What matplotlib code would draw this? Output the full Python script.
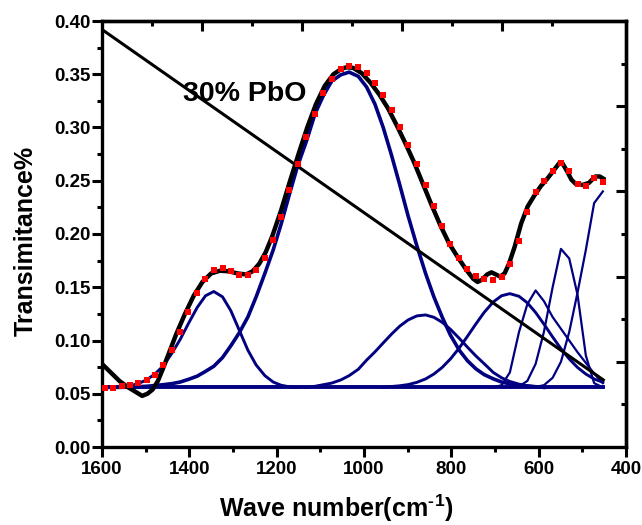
import numpy as np
import matplotlib
matplotlib.use('Agg')
import matplotlib.pyplot as plt
from matplotlib.ticker import MultipleLocator

plt.rcParams['font.family'] = ['Liberation Sans', 'DejaVu Sans']
plt.rcParams['font.weight'] = 'bold'
plt.rcParams['mathtext.fontset'] = 'custom'
plt.rcParams['mathtext.rm'] = 'Liberation Sans:bold'
plt.rcParams['mathtext.default'] = 'rm'

# measured spectrum (red squares)
wave = [1593, 1574, 1555, 1536, 1517, 1498, 1479, 1460, 1440, 1421,
        1402, 1382, 1363, 1344, 1324, 1305, 1286, 1266, 1247, 1227,
        1208, 1190, 1171, 1152, 1132, 1112, 1093, 1074, 1053, 1034,
        1013, 994, 975, 956, 937, 918, 899, 879, 859, 840,
        821, 802, 782, 763, 744, 725, 704, 685, 666, 645,
        626, 607, 588, 568, 549, 530, 511, 492, 473, 453]
trans = [0.0557, 0.0557, 0.0573, 0.0582, 0.0598, 0.0629, 0.0676, 0.077, 0.091, 0.108,
         0.127, 0.145, 0.158, 0.166, 0.168, 0.165, 0.1615, 0.1615, 0.166, 0.177,
         0.194, 0.216, 0.241, 0.266, 0.291, 0.313, 0.332, 0.346, 0.3546, 0.358,
         0.3565, 0.351, 0.3415, 0.3305, 0.3164, 0.3008, 0.284, 0.2657, 0.246, 0.2263,
         0.2075, 0.1906, 0.177, 0.167, 0.1606, 0.1575, 0.1568, 0.160, 0.1715, 0.1937,
         0.2203, 0.2398, 0.250, 0.2594, 0.2663, 0.2594, 0.247, 0.245, 0.2523, 0.249]

# cumulative fit (black)
fit_x = [1600, 1580, 1560, 1540, 1520, 1508, 1496, 1484, 1472, 1460,
         1445, 1430, 1410, 1390, 1370, 1350, 1330, 1310, 1290, 1270,
         1255, 1240, 1225, 1210, 1190, 1170, 1150, 1130, 1110, 1090,
         1070, 1050, 1040, 1025, 1005, 985, 965, 945, 925, 905,
         885, 865, 845, 825, 805, 785, 765, 750, 740, 730,
         718, 708, 698, 688, 678, 668, 655, 640, 625, 610,
         595, 580, 565, 552, 545, 535, 525, 515, 500, 485,
         470, 460, 452]
fit_y = [0.078, 0.070, 0.062, 0.056, 0.051, 0.048, 0.050, 0.054, 0.062, 0.074,
         0.090, 0.106, 0.125, 0.142, 0.155, 0.163, 0.1655, 0.165, 0.163, 0.162,
         0.165, 0.172, 0.183, 0.198, 0.222, 0.249, 0.275, 0.300, 0.322, 0.339,
         0.350, 0.3555, 0.3565, 0.356, 0.351, 0.342, 0.331, 0.318, 0.302, 0.285,
         0.267, 0.247, 0.227, 0.208, 0.191, 0.178, 0.166, 0.158, 0.155, 0.157,
         0.162, 0.164, 0.162, 0.160, 0.163, 0.172, 0.188, 0.210, 0.226, 0.236,
         0.245, 0.252, 0.260, 0.267, 0.266, 0.259, 0.251, 0.247, 0.246, 0.248,
         0.254, 0.254, 0.252]

# fitted peaks (blue)
baseline = 0.056
base_x = [1598, 453]

p1_x = [1593, 1555, 1536, 1517, 1498, 1479, 1460, 1440, 1421, 1402, 1382, 1363, 1344,
        1324, 1305, 1286, 1266, 1247, 1227, 1208, 1190, 1171, 1152]
p1_y = [0.056, 0.0565, 0.0575, 0.0595, 0.063, 0.0685, 0.076, 0.088, 0.101, 0.116, 0.131, 0.142, 0.146,
        0.141, 0.128, 0.110, 0.091, 0.077, 0.067, 0.061, 0.058, 0.0565, 0.056]

p2_x = [1593, 1555, 1536, 1517, 1498, 1479, 1460, 1440, 1421, 1402, 1382, 1363, 1344,
        1324, 1305, 1286, 1266, 1247, 1227, 1208, 1190, 1171, 1152, 1132, 1112,
        1093, 1074, 1053, 1034, 1013, 994, 975, 956, 937, 918, 899, 879, 859, 840,
        821, 802, 782, 763, 744, 725, 704, 685, 666, 645, 626, 607, 588]
p2_y = [0.056, 0.056, 0.0563, 0.0566, 0.057, 0.0577, 0.0585, 0.0595, 0.061, 0.0635, 0.0665, 0.071, 0.0758,
        0.084, 0.095, 0.107, 0.122, 0.141, 0.163, 0.185, 0.209, 0.237, 0.264, 0.287, 0.313,
        0.330, 0.3435, 0.3495, 0.352, 0.348, 0.338, 0.322, 0.300, 0.274, 0.246, 0.217, 0.189, 0.163, 0.141,
        0.122, 0.105, 0.091, 0.081, 0.0735, 0.068, 0.064, 0.061, 0.0593, 0.058, 0.0572, 0.0566, 0.056]

p3_x = [1132, 1112, 1093, 1074, 1053, 1034, 1013, 994, 975, 956, 937, 918, 899, 879, 859,
        840, 821, 802, 782, 763, 744, 725, 704, 685, 666, 645, 626, 607, 588]
p3_y = [0.056, 0.057, 0.0585, 0.060, 0.063, 0.067, 0.073, 0.0816, 0.0893, 0.0977, 0.106, 0.1135, 0.1193, 0.1231, 0.124,
        0.1218, 0.1171, 0.1105, 0.1021, 0.0937, 0.0856, 0.0783, 0.070, 0.065, 0.0615, 0.059, 0.0576, 0.0567, 0.056]

p4_x = [956, 937, 918, 899, 879, 859, 840, 821, 802, 782, 763, 744, 725, 704, 685, 666,
        645, 626, 607, 588, 568, 549, 530, 511, 492, 473, 453]
p4_y = [0.056, 0.0568, 0.0575, 0.0586, 0.0607, 0.0639, 0.0685, 0.0747, 0.0827, 0.0929, 0.104, 0.1154, 0.1263, 0.1362, 0.142, 0.144,
        0.1415, 0.1354, 0.1263, 0.1154, 0.1033, 0.0923, 0.0827, 0.0747, 0.0685, 0.0639, 0.0607]

p5_x = [704, 685, 666, 645, 626, 607, 588, 568, 549, 530, 511, 492, 473, 453]
p5_y = [0.056, 0.058, 0.070, 0.108, 0.134, 0.147, 0.137, 0.122, 0.111, 0.100, 0.089, 0.079, 0.069, 0.060]

p6_x = [666, 645, 626, 607, 588, 568, 549, 530, 511, 492, 473, 453]
p6_y = [0.056, 0.057, 0.062, 0.078, 0.108, 0.150, 0.186, 0.177, 0.143, 0.086, 0.060, 0.056]

p7_x = [626, 607, 588, 568, 549, 530, 511, 492, 473, 453]
p7_y = [0.056, 0.0565, 0.058, 0.065, 0.080, 0.108, 0.145, 0.185, 0.229, 0.240]

# straight reference line
line_x = [1600, 452]
line_y = [0.392, 0.063]

blue = '#000080'

fig = plt.figure(figsize=(6.42, 5.25), dpi=100)
ax = fig.add_axes([102/642, 78/525, 524/642, 426/525])

ax.plot(p2_x, p2_y, color=blue, lw=2.6, zorder=2)
for px, py in [(p1_x, p1_y), (p3_x, p3_y), (p4_x, p4_y)]:
    ax.plot(px, py, color=blue, lw=2.1, zorder=2)
for px, py in [(p5_x, p5_y), (p6_x, p6_y), (p7_x, p7_y)]:
    ax.plot(px, py, color=blue, lw=1.6, zorder=2)
ax.plot(base_x, [baseline, baseline], color=blue, lw=2.8, zorder=2)

ax.plot(line_x, line_y, color='black', lw=2.2, zorder=3)
ax.plot(fit_x, fit_y, color='black', lw=3.2, zorder=4)
ax.plot(wave, trans, ls='none', marker='s', ms=4.3, mew=0, color='#ff0000', zorder=5)

ax.text(1415, 0.325, '30% PbO', fontsize=20.5, fontweight='bold', zorder=6)

ax.set_xlim(1600, 400)
ax.set_ylim(0, 0.40)
ax.xaxis.set_major_locator(MultipleLocator(200))
ax.xaxis.set_minor_locator(MultipleLocator(100))
ax.yaxis.set_major_locator(MultipleLocator(0.05))
ax.yaxis.set_minor_locator(MultipleLocator(0.025))
ax.yaxis.set_major_formatter(plt.FuncFormatter(lambda v, p: '%.2f' % v))
ax.tick_params(which='both', direction='out', width=2.2, labelsize=13.5, top=False, right=False)
ax.tick_params(which='major', length=7.2)
ax.tick_params(which='minor', length=3.6)
ax.tick_params(axis='y', pad=1)
ax.tick_params(axis='x', pad=3)
for s in ax.spines.values():
    s.set_linewidth(2.4)

top = ax.secondary_xaxis('top')
top.set_xticks([1371, 1142, 913, 684])
top.set_xticks([1485, 1256, 1027, 798, 569], minor=True)
top.tick_params(which='both', direction='in', width=2.2, labeltop=False)
top.tick_params(which='major', length=7.2)
top.tick_params(which='minor', length=3.6)
top.spines['top'].set_linewidth(2.4)

right = ax.secondary_yaxis('right')
right.set_yticks([0.08, 0.16, 0.24, 0.32])
right.set_yticks([0.04, 0.12, 0.20, 0.28, 0.36], minor=True)
right.tick_params(which='both', direction='in', width=2.2, labelright=False)
right.tick_params(which='major', length=7.2)
right.tick_params(which='minor', length=3.6)
right.spines['right'].set_linewidth(2.4)

ax.set_xlabel('Wave number(cm$^{\u2010}$$^{1}$)', fontsize=18, fontweight='bold')
ax.set_ylabel('Transimitance%', fontsize=18, fontweight='bold')
ax.xaxis.set_label_coords(0.447, -0.108)
ax.yaxis.set_label_coords(-0.122, 0.484)

fig.savefig('out.png', dpi=100)
